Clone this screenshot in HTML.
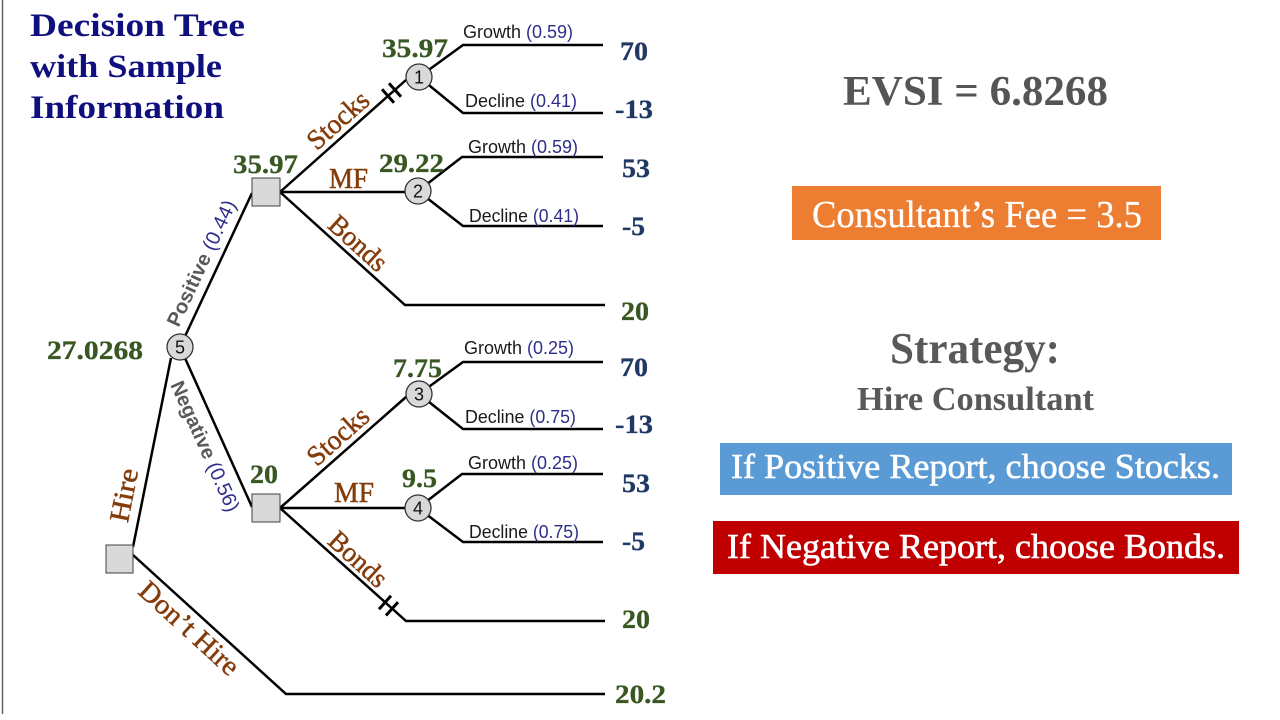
<!DOCTYPE html>
<html>
<head>
<meta charset="utf-8">
<style>
html,body{margin:0;padding:0;background:#fff;}
svg{display:block;}
.ln{stroke:#000;stroke-width:2.5;fill:none;stroke-linejoin:miter;}
.hs{stroke:#000;stroke-width:3;fill:none;}
.pay{font-family:"Liberation Serif",serif;font-weight:bold;font-size:26px;fill:#203864;stroke:#203864;stroke-width:0.3;}
.ev{font-family:"Liberation Serif",serif;font-weight:bold;font-size:26px;fill:#385723;stroke:#385723;stroke-width:0.3;}
.br{font-family:"Liberation Serif",serif;font-size:28px;fill:#843c0b;stroke:#843c0b;stroke-width:0.5;}
.gd{font-family:"Liberation Sans",sans-serif;font-size:18px;fill:#1a1a1a;}
.pr{fill:#2e2e8a;}
.num{font-family:"Liberation Sans",sans-serif;font-size:18px;fill:#111;}
.rep{font-family:"Liberation Sans",sans-serif;font-size:20px;}
.title{font-family:"Liberation Serif",serif;font-weight:bold;font-size:33px;fill:#0f0f7d;}
</style>
</head>
<body>
<svg width="1280" height="720" viewBox="0 0 1280 720" xmlns="http://www.w3.org/2000/svg">
<rect width="1280" height="720" fill="#fff"/>
<line x1="2.5" y1="0" x2="2.5" y2="714" stroke="#666" stroke-width="1.5"/>

<!-- Title -->
<text class="title" x="30" y="36" textLength="215" lengthAdjust="spacingAndGlyphs">Decision Tree</text>
<text class="title" x="30" y="77" textLength="192" lengthAdjust="spacingAndGlyphs">with Sample</text>
<text class="title" x="30" y="118" textLength="194" lengthAdjust="spacingAndGlyphs">Information</text>

<!-- Lines -->
<path class="ln" d="M133 547 L171 358"/>
<path class="ln" d="M133 555 L286 694 L605 694"/>
<path class="ln" d="M180 347 L252 193"/>
<path class="ln" d="M180 347 L252 507"/>

<path class="ln" d="M280 192 L406 80"/>
<path class="ln" d="M280 192 L405 192"/>
<path class="ln" d="M280 192 L405 305 L605 305"/>
<path class="ln" d="M419 77 L463 45 L603 45"/>
<path class="ln" d="M419 77 L463 113 L603 113"/>
<path class="ln" d="M418 191 L462 157 L603 157"/>
<path class="ln" d="M418 191 L463 226 L603 226"/>

<path class="ln" d="M280 508 L406 397"/>
<path class="ln" d="M280 508 L405 508"/>
<path class="ln" d="M280 508 L406 621 L605 621"/>
<path class="ln" d="M419 394 L463 362 L603 362"/>
<path class="ln" d="M419 394 L463 429 L603 429"/>
<path class="ln" d="M418 508 L462 474 L603 474"/>
<path class="ln" d="M418 508 L463 542 L603 542"/>

<!-- Hash marks -->
<path class="hs" d="M382.0 89.3 L394.0 102.7 M389.0 83.3 L401.0 96.7"/>
<path class="hs" d="M391.0 595.8 L379.0 609.2 M398.0 602.1 L386.0 615.5"/>

<!-- Nodes -->
<rect x="106" y="545" width="27" height="28" fill="#d9d9d9" stroke="#404040" stroke-width="1"/>
<rect x="252" y="178" width="28" height="28" fill="#d9d9d9" stroke="#404040" stroke-width="1"/>
<rect x="252" y="494" width="28" height="28" fill="#d9d9d9" stroke="#404040" stroke-width="1"/>

<g fill="#d9d9d9" stroke="#333" stroke-width="1.3">
<circle cx="419" cy="77" r="13"/>
<circle cx="418" cy="191" r="13"/>
<circle cx="419" cy="394" r="13"/>
<circle cx="418" cy="508" r="13"/>
<circle cx="180" cy="347" r="13"/>
</g>
<g class="num" text-anchor="middle">
<text x="419" y="83.5">1</text>
<text x="418" y="197.5">2</text>
<text x="419" y="400.5">3</text>
<text x="418" y="514.5">4</text>
<text x="180" y="353.5">5</text>
</g>

<!-- Branch labels -->
<text class="br" transform="translate(344,127) rotate(-41.6)" text-anchor="middle" textLength="73" lengthAdjust="spacingAndGlyphs">Stocks</text>
<text class="br" x="329" y="188" textLength="39" lengthAdjust="spacingAndGlyphs">MF</text>
<text class="br" transform="translate(352,250) rotate(42.1)" text-anchor="middle" textLength="69" lengthAdjust="spacingAndGlyphs">Bonds</text>

<text class="br" transform="translate(344,443) rotate(-41.6)" text-anchor="middle" textLength="73" lengthAdjust="spacingAndGlyphs">Stocks</text>
<text class="br" x="334" y="502" textLength="40" lengthAdjust="spacingAndGlyphs">MF</text>
<text class="br" transform="translate(352,566) rotate(42.1)" text-anchor="middle" textLength="69" lengthAdjust="spacingAndGlyphs">Bonds</text>

<text class="br" transform="translate(133,497) rotate(-78.8)" text-anchor="middle" textLength="54" lengthAdjust="spacingAndGlyphs">Hire</text>
<text class="br" transform="translate(183,635) rotate(42.4)" text-anchor="middle" textLength="125" lengthAdjust="spacingAndGlyphs">Don’t Hire</text>

<text class="rep" transform="translate(207.5,266) rotate(-64.9)" text-anchor="middle" textLength="137" lengthAdjust="spacingAndGlyphs"><tspan font-weight="bold" fill="#595959">Positive</tspan><tspan fill="#2e2e8a"> (0.44)</tspan></text>
<text class="rep" transform="translate(199,449) rotate(65.8)" text-anchor="middle" textLength="141" lengthAdjust="spacingAndGlyphs"><tspan font-weight="bold" fill="#595959">Negative</tspan><tspan fill="#2e2e8a"> (0.56)</tspan></text>

<!-- Outcome labels -->
<text class="gd" x="463" y="38" textLength="110" lengthAdjust="spacingAndGlyphs">Growth <tspan class="pr">(0.59)</tspan></text>
<text class="gd" x="465" y="107" textLength="112" lengthAdjust="spacingAndGlyphs">Decline <tspan class="pr">(0.41)</tspan></text>
<text class="gd" x="468" y="153" textLength="110" lengthAdjust="spacingAndGlyphs">Growth <tspan class="pr">(0.59)</tspan></text>
<text class="gd" x="469" y="222" textLength="110" lengthAdjust="spacingAndGlyphs">Decline <tspan class="pr">(0.41)</tspan></text>
<text class="gd" x="464" y="354" textLength="110" lengthAdjust="spacingAndGlyphs">Growth <tspan class="pr">(0.25)</tspan></text>
<text class="gd" x="465" y="423" textLength="111" lengthAdjust="spacingAndGlyphs">Decline <tspan class="pr">(0.75)</tspan></text>
<text class="gd" x="468" y="469" textLength="110" lengthAdjust="spacingAndGlyphs">Growth <tspan class="pr">(0.25)</tspan></text>
<text class="gd" x="469" y="538" textLength="110" lengthAdjust="spacingAndGlyphs">Decline <tspan class="pr">(0.75)</tspan></text>

<!-- Payoffs -->
<text class="pay" x="620" y="60" textLength="28" lengthAdjust="spacingAndGlyphs">70</text>
<text class="pay" x="615" y="118" textLength="38" lengthAdjust="spacingAndGlyphs">-13</text>
<text class="pay" x="622" y="177" textLength="28" lengthAdjust="spacingAndGlyphs">53</text>
<text class="pay" x="622" y="235" textLength="23" lengthAdjust="spacingAndGlyphs">-5</text>
<text class="ev" x="621" y="320" textLength="28" lengthAdjust="spacingAndGlyphs">20</text>

<text class="pay" x="620" y="376" textLength="28" lengthAdjust="spacingAndGlyphs">70</text>
<text class="pay" x="615" y="433" textLength="38" lengthAdjust="spacingAndGlyphs">-13</text>
<text class="pay" x="622" y="492" textLength="28" lengthAdjust="spacingAndGlyphs">53</text>
<text class="pay" x="622" y="550" textLength="23" lengthAdjust="spacingAndGlyphs">-5</text>
<text class="ev" x="622" y="628" textLength="28" lengthAdjust="spacingAndGlyphs">20</text>
<text class="ev" x="615" y="703" textLength="51" lengthAdjust="spacingAndGlyphs">20.2</text>

<!-- Expected values -->
<text class="ev" x="382" y="57" textLength="66" lengthAdjust="spacingAndGlyphs">35.97</text>
<text class="ev" x="379" y="172" textLength="65" lengthAdjust="spacingAndGlyphs">29.22</text>
<text class="ev" x="233" y="173" textLength="65" lengthAdjust="spacingAndGlyphs">35.97</text>
<text class="ev" x="47" y="359" textLength="96" lengthAdjust="spacingAndGlyphs">27.0268</text>
<text class="ev" x="393" y="377" textLength="49" lengthAdjust="spacingAndGlyphs">7.75</text>
<text class="ev" x="250" y="483" textLength="28" lengthAdjust="spacingAndGlyphs">20</text>
<text class="ev" x="402" y="487" textLength="35" lengthAdjust="spacingAndGlyphs">9.5</text>

<!-- Right panel -->
<text x="843" y="105" font-family="Liberation Serif, serif" font-weight="bold" font-size="42" fill="#555" textLength="265" lengthAdjust="spacingAndGlyphs">EVSI = 6.8268</text>

<rect x="792" y="186" width="369" height="54" fill="#ed7d31"/>
<text x="812" y="227" font-family="Liberation Serif, serif" font-size="38" fill="#fff" stroke="#fff" stroke-width="0.3" textLength="330" lengthAdjust="spacingAndGlyphs">Consultant’s Fee = 3.5</text>

<text x="890" y="363" font-family="Liberation Serif, serif" font-weight="bold" font-size="44" fill="#595959" textLength="170" lengthAdjust="spacingAndGlyphs">Strategy:</text>
<text x="857" y="410" font-family="Liberation Serif, serif" font-weight="bold" font-size="34" fill="#595959" textLength="237" lengthAdjust="spacingAndGlyphs">Hire Consultant</text>

<rect x="720" y="443" width="512" height="52" fill="#5b9bd5"/>
<text x="731" y="478" font-family="Liberation Serif, serif" font-size="35" fill="#fff" stroke="#fff" stroke-width="0.6" textLength="489" lengthAdjust="spacingAndGlyphs">If Positive Report, choose Stocks.</text>

<rect x="713" y="521" width="526" height="53" fill="#c00000"/>
<text x="727" y="558" font-family="Liberation Serif, serif" font-size="35" fill="#fff" stroke="#fff" stroke-width="0.6" textLength="498" lengthAdjust="spacingAndGlyphs">If Negative Report, choose Bonds.</text>
</svg>
</body>
</html>
